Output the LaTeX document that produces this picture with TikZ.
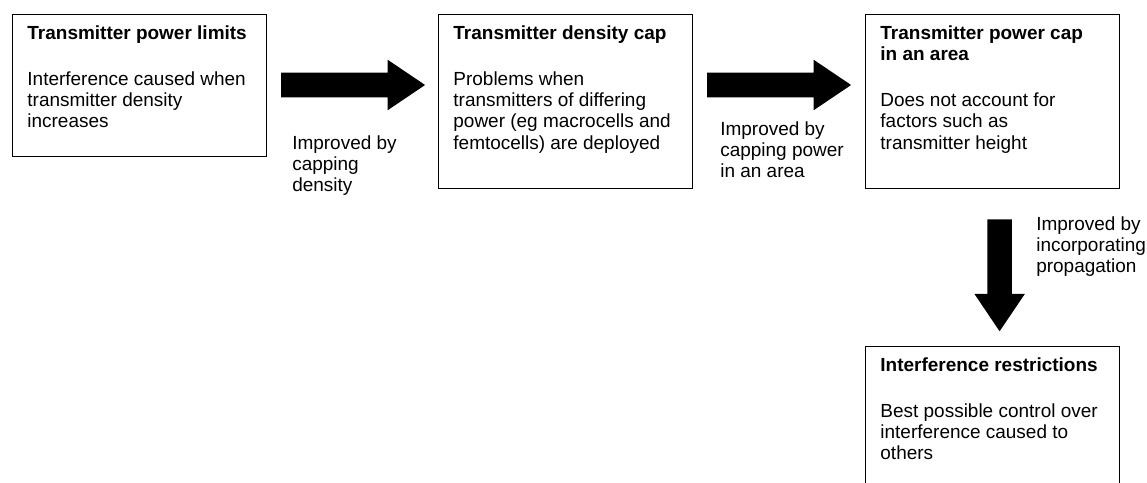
\documentclass[tikz,border=0pt]{standalone}
\usepackage{fontspec}
\setmainfont{Liberation Sans}
\usetikzlibrary{shapes.arrows}

\begin{document}
\begin{tikzpicture}[
    box/.style={
        draw,
        line width=0.6pt,
        anchor=north west,
        inner xsep=0.375cm,
        inner ysep=0.28cm,
        font=\fontsize{13.5pt}{15pt}\selectfont
    },
    blockarrow/.style={
        single arrow,
        fill=black,
        anchor=tail,
        inner xsep=0pt,
        inner ysep=0.3cm,
        minimum width=0pt,
        single arrow head extend=0.325cm,
        single arrow tip angle=68
    },
    note/.style={
        anchor=north west,
        align=left,
        inner sep=0pt,
        font=\fontsize{13.5pt}{15pt}\selectfont
    }
]

\useasboundingbox (0,0) rectangle (28.675,-12.075);

% Power limits
\node[box] (limits) at (0.3,-0.35)
{\parbox[t][2.99cm][t]{5.6cm}{\raggedright\textbf{Transmitter power limits}\\[18pt]Interference caused when\\transmitter density\\increases}};

% Density cap
\node[box] (density) at (10.95,-0.35)
{\parbox[t][3.79cm][t]{5.6cm}{\raggedright\textbf{Transmitter density cap}\\[18pt]Problems when\\transmitters of differing\\power (eg macrocells and\\femtocells) are deployed}};

% Power cap in an area
\node[box] (powercap) at (21.625,-0.35)
{\parbox[t][3.79cm][t]{5.6cm}{\raggedright\textbf{Transmitter power cap}\\\textbf{in an area}\\[18pt]Does not account for\\factors such as\\transmitter height}};

% Interference restrictions
\node[box] (restrictions) at (21.625,-8.65)
{\parbox[t][3.17cm][t]{5.6cm}{\raggedright\textbf{Interference restrictions}\\[18pt]Best possible control over\\interference caused to\\others}};

% Block arrows
\node[blockarrow, minimum height=3.6cm] (arrow1) at (7.02,-2.125) {};
\node[blockarrow, minimum height=3.6cm] (arrow2) at (17.67,-2.125) {};
\node[blockarrow, minimum height=2.8cm, rotate=-90] (arrow3) at (24.99,-5.475) {};

% Labels
\node[note] (capdensity) at (7.3,-3.375)
{Improved by\\capping\\density};

\node[note] (cappower) at (18.0,-3.025)
{Improved by\\capping power\\in an area};

\node[note] (propagation) at (25.9,-5.4)
{Improved by\\incorporating\\propagation};

\end{tikzpicture}
\end{document}
